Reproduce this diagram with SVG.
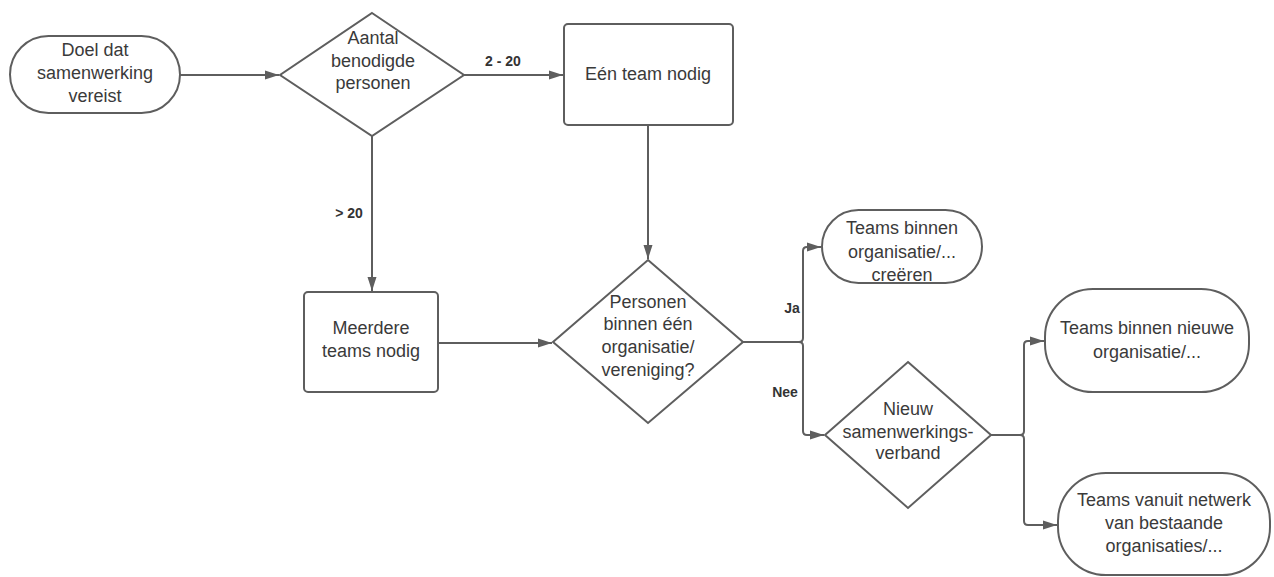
<svg xmlns="http://www.w3.org/2000/svg" width="1274" height="577" viewBox="0 0 1274 577">
<defs>
<marker id="ah" markerUnits="userSpaceOnUse" markerWidth="14" markerHeight="10" refX="14" refY="5" orient="auto">
<path d="M0,0.5 L14,5 L0,9.5 z" fill="#5e5e5e"/>
</marker>
<style>
.n{fill:#fff;stroke:#5e5e5e;stroke-width:2}
.t{font-family:"Liberation Sans",Arial,sans-serif;font-size:18px;fill:#3a3a3a;text-anchor:middle}
.l{font-family:"Liberation Sans",Arial,sans-serif;font-size:14px;font-weight:bold;fill:#333;text-anchor:middle}
.c{fill:none;stroke:#5e5e5e;stroke-width:2}
</style>
</defs>
<rect width="1274" height="577" fill="#fff"/>
<g id="connectors">
<path class="c" d="M180,75 H279" marker-end="url(#ah)"/>
<path class="c" d="M464,75 H563" marker-end="url(#ah)"/>
<path class="c" d="M372,136 V291" marker-end="url(#ah)"/>
<path class="c" d="M648,125 V259" marker-end="url(#ah)"/>
<path class="c" d="M438,343 H552" marker-end="url(#ah)"/>
<path class="c" d="M743,342 H799 Q803,342 803,338 V251 Q803,247 807,247 H821" marker-end="url(#ah)"/>
<path class="c" d="M743,342 H799 Q803,342 803,346 V431 Q803,435 807,435 H824" marker-end="url(#ah)"/>
<path class="c" d="M991,435 H1020 Q1024,435 1024,431 V345 Q1024,341 1028,341 H1044" marker-end="url(#ah)"/>
<path class="c" d="M991,435 H1020 Q1024,435 1024,439 V521 Q1024,525 1028,525 H1057" marker-end="url(#ah)"/>
<text class="l" x="503" y="66">2 - 20</text>
<text class="l" x="349" y="218">&gt; 20</text>
<text class="l" x="792" y="313">Ja</text>
<text class="l" x="785" y="397">Nee</text>
</g>
<g id="n1">
<rect class="n" x="10" y="36" width="170" height="77" rx="38.5"/>
<text class="t" x="95" y="56">Doel dat</text>
<text class="t" x="95" y="79">samenwerking</text>
<text class="t" x="95" y="102">vereist</text>
</g>
<g id="n2">
<polygon class="n" points="372,13 464,75 372,136 280,75"/>
<text class="t" x="373" y="44">Aantal</text>
<text class="t" x="373" y="67">benodigde</text>
<text class="t" x="373" y="89">personen</text>
</g>
<g id="n3">
<rect class="n" x="564" y="24" width="169" height="101" rx="4"/>
<text class="t" x="648" y="80">Eén team nodig</text>
</g>
<g id="n4">
<rect class="n" x="304" y="292" width="134" height="100" rx="4"/>
<text class="t" x="371" y="334">Meerdere</text>
<text class="t" x="371" y="357">teams nodig</text>
</g>
<g id="n5">
<polygon class="n" points="648,260 743,342 648,423 553,342"/>
<text class="t" x="648" y="308">Personen</text>
<text class="t" x="648" y="330">binnen één</text>
<text class="t" x="648" y="353">organisatie/</text>
<text class="t" x="648" y="376">vereniging?</text>
</g>
<g id="n6">
<rect class="n" x="822" y="210" width="160" height="73" rx="36.5"/>
<text class="t" x="902" y="234">Teams binnen</text>
<text class="t" x="902" y="258">organisatie/...</text>
<text class="t" x="902" y="281">creëren</text>
</g>
<g id="n7">
<polygon class="n" points="908,362 991,435 908,508 825,435"/>
<text class="t" x="908" y="415">Nieuw</text>
<text class="t" x="908" y="438">samenwerkings-</text>
<text class="t" x="908" y="459">verband</text>
</g>
<g id="n8">
<rect class="n" x="1045" y="289" width="204" height="103" rx="48"/>
<text class="t" x="1147" y="334">Teams binnen nieuwe</text>
<text class="t" x="1147" y="358">organisatie/...</text>
</g>
<g id="n9">
<rect class="n" x="1058" y="473" width="212" height="102" rx="48"/>
<text class="t" x="1164" y="506">Teams vanuit netwerk</text>
<text class="t" x="1164" y="529">van bestaande</text>
<text class="t" x="1164" y="552">organisaties/...</text>
</g>
</svg>
